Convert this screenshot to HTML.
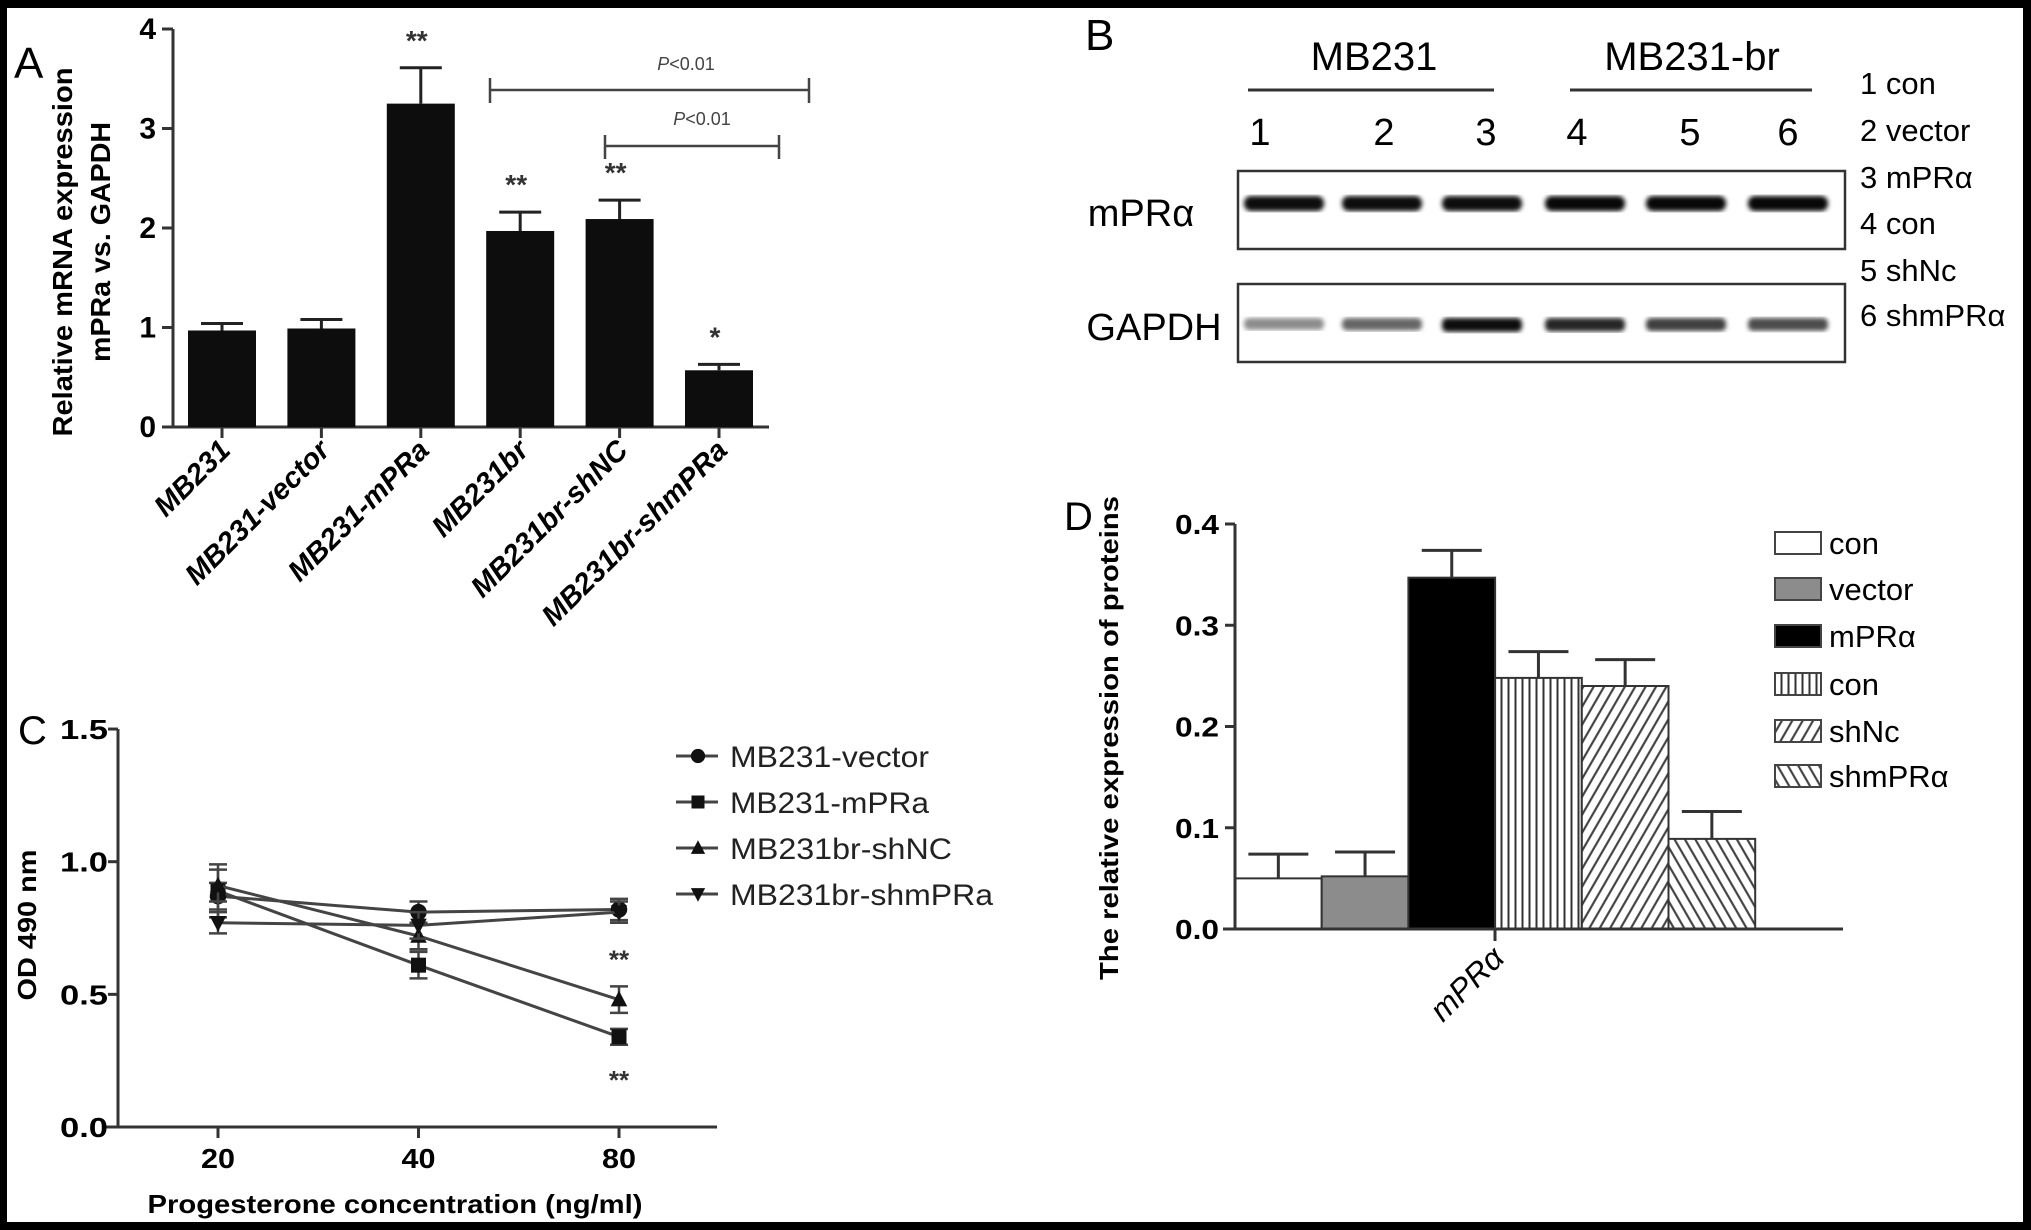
<!DOCTYPE html>
<html><head><meta charset="utf-8"><style>
html,body{margin:0;padding:0;background:#000;}
svg{display:block;}
text{font-family:"Liberation Sans",sans-serif;}
</style></head><body>
<svg id="fig" xmlns="http://www.w3.org/2000/svg" width="2031" height="1230" viewBox="0 0 2031 1230">
<defs>
<pattern id="pVert" patternUnits="userSpaceOnUse" width="7" height="10"><rect width="7" height="10" fill="#fff"/><line x1="3.5" y1="0" x2="3.5" y2="10" stroke="#333" stroke-width="2"/></pattern>
<pattern id="pFwd" patternUnits="userSpaceOnUse" width="9" height="9" patternTransform="rotate(30)"><rect width="9" height="9" fill="#fff"/><line x1="4.5" y1="0" x2="4.5" y2="9" stroke="#444" stroke-width="2.2"/></pattern>
<pattern id="pBack" patternUnits="userSpaceOnUse" width="9" height="9" patternTransform="rotate(-30)"><rect width="9" height="9" fill="#fff"/><line x1="4.5" y1="0" x2="4.5" y2="9" stroke="#444" stroke-width="2.2"/></pattern>
<filter id="blur"><feGaussianBlur stdDeviation="2.5"/></filter>
</defs>
<rect x="0" y="0" width="2031" height="1230" fill="#000"/>
<rect x="7" y="8" width="2016" height="1214" fill="#fff"/>

<g id="panelA">
<text x="14" y="78" font-size="44">A</text>
<text transform="translate(72,252) rotate(-90)" text-anchor="middle" font-size="28" font-weight="bold" textLength="369" lengthAdjust="spacingAndGlyphs">Relative mRNA expression</text>
<text transform="translate(110,242) rotate(-90)" text-anchor="middle" font-size="28" font-weight="bold" textLength="240" lengthAdjust="spacingAndGlyphs">mPRa vs. GAPDH</text>
</g>
<g id="panelB">
<text x="1085" y="50" font-size="44">B</text>
<text x="1374" y="70" text-anchor="middle" font-size="40">MB231</text>
<text x="1692" y="70" text-anchor="middle" font-size="40">MB231-br</text>
<line x1="1248" y1="90" x2="1494" y2="90" stroke="#333" stroke-width="3"/>
<line x1="1570" y1="90" x2="1812" y2="90" stroke="#333" stroke-width="3"/>
<rect x="1238" y="171" width="607" height="78" fill="#fff" stroke="#333" stroke-width="2.5"/>
<rect x="1238" y="284" width="607" height="78" fill="#fff" stroke="#333" stroke-width="2.5"/>
<text x="1141" y="226" text-anchor="middle" font-size="38">mPRα</text>
<text x="1154" y="340" text-anchor="middle" font-size="38">GAPDH</text>
</g>
<g id="panelC">
<text x="18" y="744" font-size="40">C</text>
<text transform="translate(36,925) rotate(-90)" text-anchor="middle" font-size="26" font-weight="bold" textLength="151" lengthAdjust="spacingAndGlyphs">OD 490 nm</text>
<text x="395" y="1213" text-anchor="middle" font-size="26" font-weight="bold" textLength="495" lengthAdjust="spacingAndGlyphs">Progesterone concentration (ng/ml)</text>
</g>
<g id="panelD">
<text x="1064" y="530" font-size="40">D</text>
<text transform="translate(1118,738) rotate(-90)" text-anchor="middle" font-size="26" font-weight="bold" textLength="484" lengthAdjust="spacingAndGlyphs">The relative expression of proteins</text>
</g>
</svg>
<script>
// ---------- Panel A data ----------
const aCategories = ["MB231","MB231-vector","MB231-mPRa","MB231br","MB231br-shNC","MB231br-shmPRa"];
const aValues = [0.97, 0.99, 3.25, 1.97, 2.09, 0.57];
const aErrors = [0.07, 0.09, 0.36, 0.19, 0.19, 0.06];
const aStars = ["", "", "**", "**", "**", "*"];
const aTicks = [0, 1, 2, 3, 4];
// ---------- Panel B data ----------
const bLanes = ["1","2","3","4","5","6"];
const bMpraIntensity = [0.95, 0.95, 0.95, 0.97, 0.97, 0.97];
const bGapdhIntensity = [0.45, 0.6, 0.95, 0.85, 0.75, 0.7];
const bKey = ["1 con","2 vector","3 mPRα","4 con","5 shNc","6 shmPRα"];
// ---------- Panel C data ----------
const cConc = ["20","40","80"];
const cSeriesNames = ["MB231-vector","MB231-mPRa","MB231br-shNC","MB231br-shmPRa"];
const cVector = [0.87, 0.81, 0.82];
const cMpra = [0.89, 0.61, 0.34];
const cShnc = [0.91, 0.72, 0.48];
const cShmpra = [0.77, 0.76, 0.81];
const cVectorErr = [0.05, 0.04, 0.04];
const cMpraErr = [0.10, 0.05, 0.03];
const cShncErr = [0.06, 0.05, 0.05];
const cShmpraErr = [0.04, 0.05, 0.04];
const cTicks = ["0.0","0.5","1.0","1.5"];
// ---------- Panel D data ----------
const dGroups = ["con","vector","mPRα","con","shNc","shmPRα"];
const dValues = [0.050, 0.052, 0.347, 0.248, 0.240, 0.089];
const dErrors = [0.024, 0.024, 0.027, 0.026, 0.026, 0.027];
const dTicks = ["0.0","0.1","0.2","0.3","0.4"];

const NS = "http://www.w3.org/2000/svg";
function mk(parent, tag, attrs, txt){
  const e = document.createElementNS(NS, tag);
  for (const k in attrs) e.setAttribute(k, attrs[k]);
  if (txt !== undefined) e.textContent = txt;
  parent.appendChild(e);
  return e;
}
let el;

// ================= Panel A =================
const gA = document.getElementById('panelA');
const yA = v => 427 - v * 99.5;
const xA = i => 222 + i * 99.4;
el = mk(gA,'line',{x1:173,y1:yA(4),x2:173,y2:427,stroke:'#333','stroke-width':3});


el = mk(gA,'line',{x1:162,y1:427,x2:769,y2:427,stroke:'#333','stroke-width':3});


aTicks.forEach(t => {
  el = mk(gA,'line',{x1:162,y1:yA(t),x2:173,y2:yA(t),stroke:'#333','stroke-width':3});
  
  
  el = mk(gA,'text',{x:156,y:yA(t)+10,'text-anchor':'end','font-size':30,'font-weight':'bold'},String(t));
  
  
});
aCategories.forEach((c,i) => {
  const x = xA(i), w = 68;
  el = mk(gA,'rect',{x:x-w/2,y:yA(aValues[i]),width:w,height:427-yA(aValues[i]),fill:'#0d0d0d'});
  
  
  const top = yA(aValues[i]+aErrors[i]);
  el = mk(gA,'path',{d:`M${x},${yA(aValues[i])}V${top}M${x-21},${top}H${x+21}`,stroke:'#222','stroke-width':3,fill:'none'});
  
  
  if (aStars[i]) {
    el = mk(gA,'text',{x:x-4,y:top-18,'text-anchor':'middle','font-size':28,'font-weight':'bold',fill:'#333'},aStars[i]);
    
    
  }
  el = mk(gA,'line',{x1:x,y1:427,x2:x,y2:438,stroke:'#333','stroke-width':3});
  
  
  el = mk(gA,'text',{transform:`translate(${x+10},452) rotate(-45)`,'text-anchor':'end','font-size':29,'font-weight':'bold','font-style':'italic'},c);
  
  
});
// brackets
el = mk(gA,'path',{d:'M490,78V103M490,90H809M809,78V103',stroke:'#444','stroke-width':2.5,fill:'none'});


el = mk(gA,'text',{x:686,y:70,'text-anchor':'middle','font-size':18,fill:'#444'},'');
el.innerHTML = '<tspan font-style="italic">P</tspan>&lt;0.01';


el = mk(gA,'path',{d:'M605,135V159M605,146H779M779,135V159',stroke:'#444','stroke-width':2.5,fill:'none'});


el = mk(gA,'text',{x:702,y:125,'text-anchor':'middle','font-size':18,fill:'#444'},'');
el.innerHTML = '<tspan font-style="italic">P</tspan>&lt;0.01';



// ================= Panel B =================
const gB = document.getElementById('panelB');
const laneX = [1284,1382,1482,1585,1686,1788];
const numX = [1260,1384,1486,1577,1690,1788];
bLanes.forEach((l,i) => {
  el = mk(gB,'text',{x:numX[i],y:145,'text-anchor':'middle','font-size':38},l);
  
  
  const a = bMpraIntensity[i];
  el = mk(gB,'rect',{x:laneX[i]-40,y:196,width:80,height:15,rx:7,fill:'#000','fill-opacity':a,filter:'url(#blur)'});
  
  
  const g = bGapdhIntensity[i];
  el = mk(gB,'rect',{x:laneX[i]-40,y:318,width:80,height:10+g*4,rx:5,fill:'#000','fill-opacity':g,filter:'url(#blur)'});
  
  
});
const keyY = [94,141,188,234,281,326];
bKey.forEach((k,i) => {
  el = mk(gB,'text',{x:1860,y:keyY[i],'font-size':31},k);
  
  
});

// ================= Panel C =================
const gC = document.getElementById('panelC');
const yC = v => 1127 - v * 265.3;
const xC = i => 218 + i * 200.5;
el = mk(gC,'line',{x1:118,y1:yC(1.5),x2:118,y2:1127,stroke:'#333','stroke-width':3});


el = mk(gC,'line',{x1:104,y1:1127,x2:717,y2:1127,stroke:'#333','stroke-width':3});


cTicks.forEach(t => {
  const v = parseFloat(t);
  el = mk(gC,'line',{x1:108,y1:yC(v),x2:118,y2:yC(v),stroke:'#333','stroke-width':3});
  
  
  el = mk(gC,'text',{x:108,y:yC(v)+10,'text-anchor':'end','font-size':28,'font-weight':'bold',textLength:48,lengthAdjust:'spacingAndGlyphs'},t);
  
  
});
cConc.forEach((c,i) => {
  el = mk(gC,'line',{x1:xC(i),y1:1127,x2:xC(i),y2:1138,stroke:'#333','stroke-width':3});
  
  
  el = mk(gC,'text',{x:xC(i),y:1168,'text-anchor':'middle','font-size':28,'font-weight':'bold',textLength:34,lengthAdjust:'spacingAndGlyphs'},c);
  
  
});
const cSeries = [cVector,cMpra,cShnc,cShmpra];
const cErrs = [cVectorErr,cMpraErr,cShncErr,cShmpraErr];
const cMarkers = ['circle','square','triangle','invtriangle'];
function marker(g, type, x, y, s){
  if (type==='circle') return mk(g,'circle',{cx:x,cy:y,r:s*0.55,fill:'#111'});
  if (type==='square') return mk(g,'rect',{x:x-s*0.5,y:y-s*0.5,width:s,height:s,fill:'#111'});
  if (type==='triangle') return mk(g,'path',{d:`M${x},${y-s*0.6}L${x+s*0.55},${y+s*0.45}L${x-s*0.55},${y+s*0.45}Z`,fill:'#111'});
  return mk(g,'path',{d:`M${x},${y+s*0.6}L${x+s*0.55},${y-s*0.45}L${x-s*0.55},${y-s*0.45}Z`,fill:'#111'});
}
cSeries.forEach((s,si) => {
  el = mk(gC,'polyline',{points:s.map((v,i)=>xC(i)+','+yC(v)).join(' '),fill:'none',stroke:'#444','stroke-width':3});
  
  
  s.forEach((v,i) => {
    const x = xC(i), e = cErrs[si][i];
    el = mk(gC,'path',{d:`M${x},${yC(v-e)}V${yC(v+e)}M${x-9},${yC(v-e)}H${x+9}M${x-9},${yC(v+e)}H${x+9}`,stroke:'#444','stroke-width':2.5,fill:'none'});
    
    
    el = marker(gC, cMarkers[si], x, yC(v), 15);
    
    
  });
});
el = mk(gC,'text',{x:xC(2),y:yC(cShnc[2]+cShncErr[2])-18,'text-anchor':'middle','font-size':26,'font-weight':'bold',fill:'#333'},'**');


el = mk(gC,'text',{x:xC(2),y:yC(cMpra[2]-cMpraErr[2])+44,'text-anchor':'middle','font-size':26,'font-weight':'bold',fill:'#333'},'**');


const legY = [756,802,848,894];
cSeriesNames.forEach((n,i) => {
  el = mk(gC,'line',{x1:676,y1:legY[i],x2:718,y2:legY[i],stroke:'#444','stroke-width':3});
  
  
  el = marker(gC, cMarkers[i], 698, legY[i], 13);
  
  
  el = mk(gC,'text',{x:730,y:legY[i]+11,'font-size':30,fill:'#222',textLength:[199,199,222,263][i],lengthAdjust:'spacingAndGlyphs'},n);
  
  
});

// ================= Panel D =================
const gD = document.getElementById('panelD');
const yD = v => 929 - v * 1012.5;
const bw = 86.7;
const xD = i => 1235 + i * bw;
const dFills = ['#fff','#8c8c8c','#000','url(#pVert)','url(#pFwd)','url(#pBack)'];
dGroups.forEach((g,i) => {
  el = mk(gD,'rect',{x:xD(i),y:yD(dValues[i]),width:bw,height:929-yD(dValues[i]),fill:dFills[i],stroke:'#333','stroke-width':2});
  
  
  const cx = xD(i)+bw/2, top = yD(dValues[i]+dErrors[i]);
  el = mk(gD,'path',{d:`M${cx},${yD(dValues[i])}V${top}M${cx-30},${top}H${cx+30}`,stroke:'#333','stroke-width':3,fill:'none'});
  
  
});
el = mk(gD,'line',{x1:1235,y1:yD(0.4),x2:1235,y2:929,stroke:'#333','stroke-width':3});


el = mk(gD,'line',{x1:1223,y1:929,x2:1843,y2:929,stroke:'#333','stroke-width':3});


dTicks.forEach(t => {
  const v = parseFloat(t);
  el = mk(gD,'line',{x1:1225,y1:yD(v),x2:1235,y2:yD(v),stroke:'#333','stroke-width':3});
  
  
  el = mk(gD,'text',{x:1219,y:yD(v)+10,'text-anchor':'end','font-size':28,'font-weight':'bold',textLength:44,lengthAdjust:'spacingAndGlyphs'},t);
  
  
});
el = mk(gD,'line',{x1:1495,y1:929,x2:1495,y2:941,stroke:'#333','stroke-width':3});


el = mk(gD,'text',{transform:'translate(1506,960) rotate(-45)','text-anchor':'end','font-size':32,'font-style':'italic'},'mPRα');


const dLegY = [543,589,636,684,731,776];
dGroups.forEach((g,i) => {
  el = mk(gD,'rect',{x:1775,y:dLegY[i]-11,width:46,height:22,fill:dFills[i],stroke:'#444','stroke-width':2});
  
  
  el = mk(gD,'text',{x:1829,y:dLegY[i]+11,'font-size':31},g);
  
  
});
</script>
</body></html>
